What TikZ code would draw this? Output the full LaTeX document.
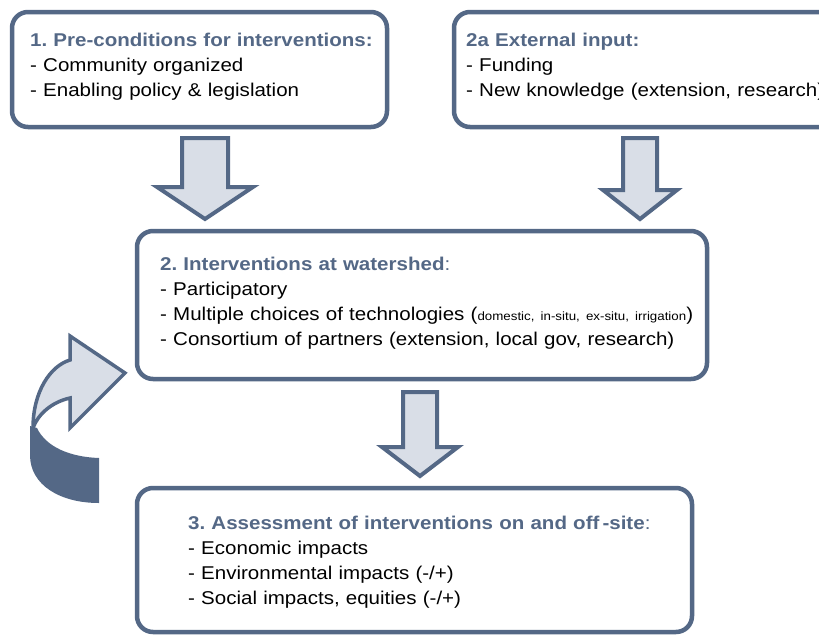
\documentclass[tikz,border=0pt]{standalone}
\usepackage{fontspec}
\setmainfont{Liberation Sans}[FakeStretch=1.11]
\definecolor{slate}{RGB}{84,104,134}
\definecolor{pale}{RGB}{217,222,231}
\begin{document}
\frenchspacing
\begin{tikzpicture}[x=1pt,y=-1pt,
  box/.style={draw=slate, line width=4.5pt, rounded corners=16pt, fill=white,
    anchor=north west, inner sep=0pt, outer sep=0pt},
  blockarrow/.style={draw=slate, line width=4pt, fill=pale, line join=miter},
  txt/.style={anchor=base west, inner sep=0pt, text width=640pt, align=left,
    font=\fontsize{18.5}{25}\selectfont},
  note/.style={font=\fontsize{12}{13}\selectfont}]
\useasboundingbox (0,0) rectangle (819,635);
\clip (0,0) rectangle (819,635);

% boxes
\node[box, minimum width=375pt, minimum height=115pt] (pre) at (12,12) {};
\node[box, minimum width=400pt, minimum height=115pt] (ext) at (454,12) {};
\node[box, minimum width=570pt, minimum height=148pt] (int) at (137,231) {};
\node[box, minimum width=555pt, minimum height=144pt] (ass) at (137,488) {};

% texts
\node[txt] (preT) at (30,46) {{\color{slate}\bfseries 1. Pre-conditions for interventions:}\\
- Community organized\\
- Enabling policy \& legislation};
\node[txt] (extT) at (466,46) {{\color{slate}\bfseries 2a External input:}\\
- Funding\\
- New knowledge (extension, research)};
\node[txt] (intT) at (160,270) {{\color{slate}\textbf{2. Interventions at watershed}:}\\
- Participatory\\
- Multiple choices of technologies ({\fontsize{12}{13}\selectfont domestic, in-situ, ex-situ, irrigation})\\
- Consortium of partners (extension, local gov, research)};
\node[txt] (assT) at (188,529) {{\color{slate}\textbf{3. Assessment of interventions on and off\,-site}:}\\
- Economic impacts\\
- Environmental impacts (-/+)\\
- Social impacts, equities (-/+)};

% block arrows between boxes
\draw[blockarrow] (182,138) -- (228,138) -- (228,187) -- (253,187) -- (205,219)
  -- (157,187) -- (182,187) -- cycle;
\draw[blockarrow] (623,138) -- (657,138) -- (657,190) -- (677,190) -- (640,219)
  -- (603,190) -- (623,190) -- cycle;
\draw[blockarrow] (403,392) -- (437,392) -- (437,447) -- (458,447) -- (420,476)
  -- (382,447) -- (403,447) -- cycle;

% feedback curved arrow: back of the ribbon
\fill[slate] (30,426) -- (30,455) .. controls (30,485) and (60,503) .. (99,503) -- (99,458)
  .. controls (70,457) and (46,447) .. (37,428) -- cycle;
% front of the ribbon with its head
\draw[blockarrow, line width=3.5pt] (33,428) .. controls (33,392) and (50,366) .. (70,360)
  -- (70,336) -- (125,373) -- (70,428) -- (70,398)
  .. controls (52,402) and (38,414) .. (33,428) -- cycle;
\end{tikzpicture}
\end{document}
